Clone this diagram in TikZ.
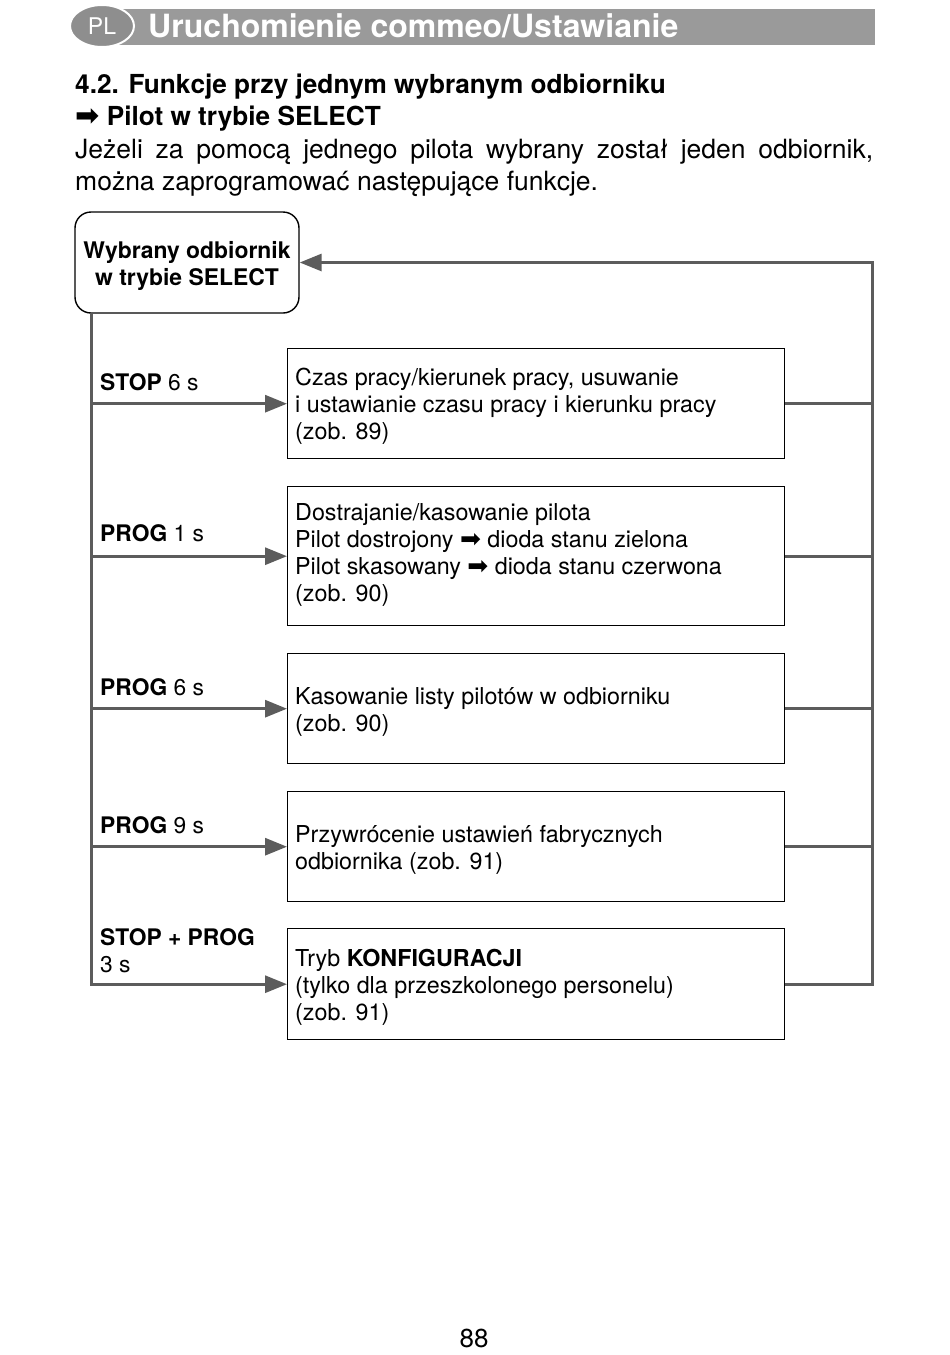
\documentclass[tikz,border=0pt]{standalone}
\usepackage{fontspec}
\setmainfont{TeX Gyre Heros}
\newfontfamily\symfont{DejaVu Sans}
\usetikzlibrary{arrows.meta,shapes.geometric}
\definecolor{conn}{HTML}{5C5C5C}
\definecolor{bar}{HTML}{9A9A9A}
\definecolor{plgray}{HTML}{8E8E8E}
\newcommand{\rarr}{{\symfont\fontsize{25}{20}\selectfont ➡}}
\newcommand{\bigrarr}{{\symfont\fontsize{29}{20}\selectfont ➡}}
\tikzset{
  txt/.style={anchor=base west, inner sep=0pt, align=left, font=\fontsize{23.3}{27}\selectfont},
  lbl/.style={anchor=base west, inner sep=0pt, align=left, font=\fontsize{22.8}{27}\selectfont},
  fbox/.style={draw=black, line width=1.4pt, minimum width=497pt, anchor=north west, inner sep=0pt},
  wire/.style={draw=conn, line width=3pt},
  warr/.style={wire, -{Triangle[length=22pt,width=17pt]}},
}
\begin{document}
\begin{tikzpicture}[x=1pt,y=-1pt]
\useasboundingbox (0,0) rectangle (950,1355);
% header
\fill[bar] (100,9) rectangle (875,45);
\node[ellipse, fill=plgray, draw=white, line width=2pt, minimum width=64pt, minimum height=42pt, inner sep=0pt] (pl) at (102,26) {};
\node[anchor=base, inner sep=0pt, text=white, font=\fontsize{23}{24}\selectfont] (pltxt) at (102,34) {PL};
\node[anchor=base west, inner sep=0pt, text=white, font=\fontsize{32}{32}\selectfont\bfseries] (head) at (148,37) {Uruchomienie commeo/Ustawianie};
% titles
\node[anchor=base west, inner sep=0pt, font=\fontsize{26.2}{28}\selectfont\bfseries] (t1) at (75,93) {4.2. Funkcje przy jednym wybranym odbiorniku};
\node[anchor=base west, inner sep=0pt, font=\fontsize{26.2}{28}\selectfont\bfseries] (t2) at (75,125) {\bigrarr\ Pilot w trybie SELECT};
\node[anchor=base west, inner sep=0pt, text width=798pt, align=justify, font=\fontsize{26.5}{32}\selectfont] (par) at (75,158) {Jeżeli za pomocą jednego pilota wybrany został jeden odbiornik,\linebreak można zaprogramować następujące funkcje.};
% selected box
\node[draw=black, line width=1.4pt, rounded corners=16pt, minimum width=224pt, minimum height=101pt, inner sep=0pt] (sel) at (187,262.5) {};
\node[anchor=base, inner sep=0pt, align=center, font=\fontsize{22.9}{27}\selectfont\bfseries] (seltxt) at (187,285) {Wybrany odbiornik\\w trybie SELECT};
% function boxes
\node[fbox, minimum height=110pt] (b1) at (287,348) {};
\node[fbox, minimum height=139pt] (b2) at (287,486) {};
\node[fbox, minimum height=110pt] (b3) at (287,653) {};
\node[fbox, minimum height=110pt] (b4) at (287,791) {};
\node[fbox, minimum height=111pt] (b5) at (287,928) {};
\node[txt] (b1t) at (295,439) {Czas pracy/kierunek pracy, usuwanie\\i ustawianie czasu pracy i kierunku pracy\\(zob. 89)};
\node[txt] (b2t) at (295,601) {Dostrajanie/kasowanie pilota\\Pilot dostrojony \rarr\ dioda stanu zielona\\Pilot skasowany \rarr\ dioda stanu czerwona\\(zob. 90)};
\node[txt] (b3t) at (295,731) {Kasowanie listy pilotów w odbiorniku\\(zob. 90)};
\node[txt] (b4t) at (295,869) {Przywrócenie ustawień fabrycznych\\odbiornika (zob. 91)};
\node[txt] (b5t) at (295,1020) {Tryb \textbf{KONFIGURACJI}\\(tylko dla przeszkolonego personelu)\\(zob. 91)};
% labels
\node[lbl] (l1) at (100,390) {\textbf{STOP} 6 s};
\node[lbl] (l2) at (100,541) {\textbf{PROG} 1 s};
\node[lbl] (l3) at (100,695) {\textbf{PROG} 6 s};
\node[lbl] (l4) at (100,833) {\textbf{PROG} 9 s};
\node[lbl] (l5) at (100,972) {\textbf{STOP + PROG}\\3 s};
% connectors
\coordinate (lx) at (91,0);
\coordinate (rx) at (872,0);
\draw[wire, line join=miter] (sel.south -| lx) -- (lx |- b5.west) -- ([xshift=-20pt]b5.west);
\draw[warr] (lx |- b1.west) -- (b1.west);
\draw[warr] (lx |- b2.west) -- (b2.west);
\draw[warr] (lx |- b3.west) -- (b3.west);
\draw[warr] (lx |- b4.west) -- (b4.west);
\draw[warr] (lx |- b5.west) -- (b5.west);
\draw[warr, line join=miter] (b5.east) -- (rx |- b5.east) -- (rx |- sel.east) -- (sel.east);
\draw[wire] (b1.east) -- (rx |- b1.east);
\draw[wire] (b2.east) -- (rx |- b2.east);
\draw[wire] (b3.east) -- (rx |- b3.east);
\draw[wire] (b4.east) -- (rx |- b4.east);
% page number
\node[anchor=base, inner sep=0pt, font=\fontsize{26}{28}\selectfont] (pg) at (474,1347) {88};
\end{tikzpicture}
\end{document}
